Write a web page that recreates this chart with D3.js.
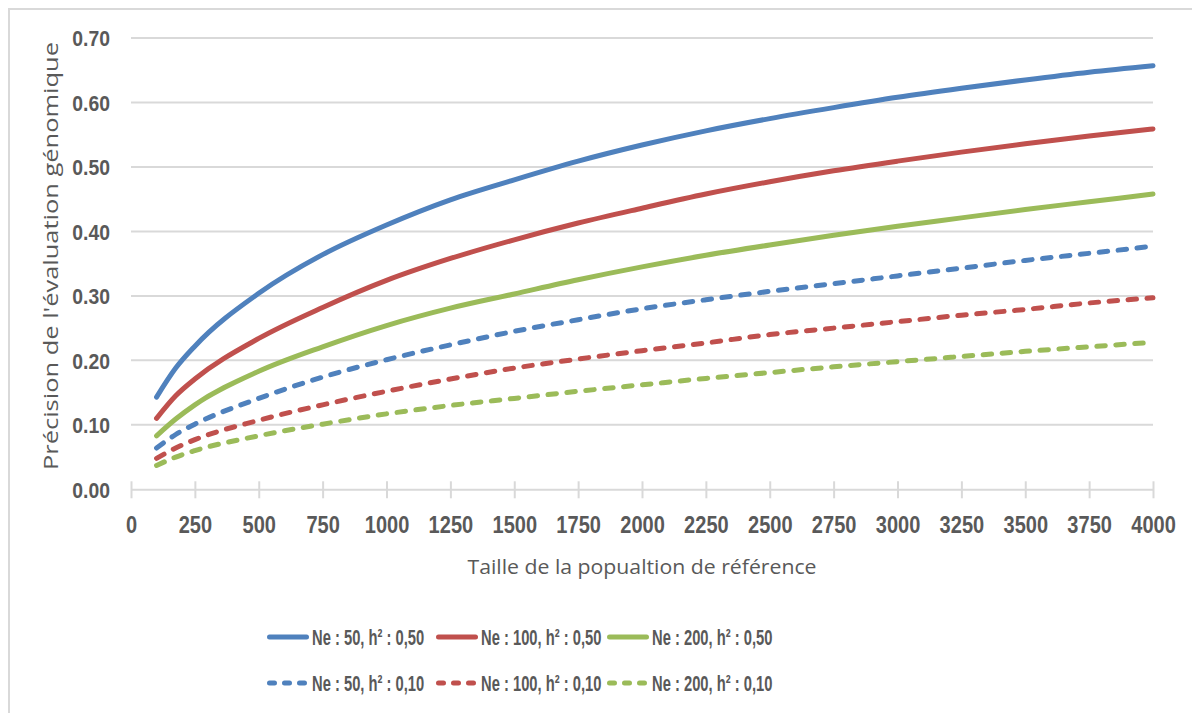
<!DOCTYPE html>
<html>
<head>
<meta charset="utf-8">
<script src="https://cdn.jsdelivr.net/npm/d3@7"></script>
<style>
  html, body { margin: 0; padding: 0; background: #ffffff; }
  svg { display: block; }
</style>
</head>
<body>
<svg id="chart" width="1192" height="713"></svg>
<script>
// ---------------- DATA ----------------
const sizes = [100, 175, 250, 500, 750, 1000, 1250, 1500, 1750, 2000, 2250, 2500, 2750, 3000, 3250, 3500, 3750, 4000];

const ne50_h50  = [0.143, 0.188, 0.222, 0.304, 0.364, 0.410, 0.449, 0.480, 0.509, 0.534, 0.556, 0.575, 0.592, 0.608, 0.622, 0.635, 0.647, 0.657];
const ne100_h50 = [0.110, 0.145, 0.171, 0.234, 0.282, 0.324, 0.358, 0.387, 0.413, 0.436, 0.458, 0.477, 0.494, 0.509, 0.523, 0.536, 0.548, 0.559];
const ne200_h50 = [0.083, 0.109, 0.131, 0.183, 0.221, 0.254, 0.281, 0.303, 0.325, 0.345, 0.363, 0.379, 0.394, 0.408, 0.421, 0.434, 0.446, 0.458];
const ne50_h10  = [0.064, 0.085, 0.101, 0.141, 0.174, 0.201, 0.224, 0.245, 0.263, 0.280, 0.294, 0.307, 0.319, 0.331, 0.343, 0.355, 0.366, 0.377];
const ne100_h10 = [0.048, 0.064, 0.077, 0.107, 0.131, 0.152, 0.171, 0.188, 0.202, 0.215, 0.227, 0.240, 0.250, 0.260, 0.270, 0.279, 0.289, 0.297];
const ne200_h10 = [0.037, 0.050, 0.060, 0.083, 0.101, 0.117, 0.130, 0.141, 0.152, 0.162, 0.172, 0.181, 0.190, 0.198, 0.206, 0.214, 0.221, 0.228];

const seriesNames = ["Ne : 50, h² : 0,50", "Ne : 100, h² : 0,50", "Ne : 200, h² : 0,50",
                     "Ne : 50, h² : 0,10", "Ne : 100, h² : 0,10", "Ne : 200, h² : 0,10"];
const seriesValues = [ne50_h50, ne100_h50, ne200_h50, ne50_h10, ne100_h10, ne200_h10];

const xTicks = [0, 250, 500, 750, 1000, 1250, 1500, 1750, 2000, 2250, 2500, 2750, 3000, 3250, 3500, 3750, 4000];
const yTicks = [0, 0.1, 0.2, 0.3, 0.4, 0.5, 0.6, 0.7];
const xTitle = "Taille de la popualtion de référence";
const yTitle = "Précision de l'évaluation génomique";

// ---------------- STYLE ----------------
const colors = ["#4F81BD", "#C0504D", "#9BBB59", "#4F81BD", "#C0504D", "#9BBB59"];
const dashed = [false, false, false, true, true, true];
const textColor = "#595959";
const gridColor = "#D9D9D9";
const tickFont = "'Liberation Sans', Arial, sans-serif";
const titleFont = "'Open Sans', 'DejaVu Sans', sans-serif";

// horizontally condense text (reference font is narrow)
function condense(sel, factor) {
  sel.each(function () {
    const w = this.getComputedTextLength();
    d3.select(this).attr("textLength", w * factor).attr("lengthAdjust", "spacingAndGlyphs");
  });
}

const svg = d3.select("#chart");

// frame
svg.append("rect")
  .attr("x", 9).attr("y", 9).attr("width", 1200).attr("height", 720)
  .attr("fill", "#fff").attr("stroke", gridColor).attr("stroke-width", 2);

const x = d3.scaleLinear().domain([0, 4000]).range([131, 1153]);
const y = d3.scaleLinear().domain([0, 0.7]).range([489.3, 38]);

// gridlines
svg.append("g").selectAll("line").data(yTicks.filter(d => d > 0)).join("line")
  .attr("x1", x(0)).attr("x2", x(4000))
  .attr("y1", d => y(d)).attr("y2", d => y(d))
  .attr("stroke", gridColor).attr("stroke-width", 2);

// x axis
const xAxis = svg.append("g").attr("transform", `translate(0,${y(0)})`)
  .call(d3.axisBottom(x).tickValues(xTicks).tickSize(9).tickPadding(20).tickSizeOuter(0)
        .tickFormat(d3.format("d")));
xAxis.select(".domain").attr("stroke", gridColor).attr("stroke-width", 2);
xAxis.selectAll(".tick line").attr("stroke", gridColor).attr("stroke-width", 2).attr("y1", -8);
xAxis.selectAll(".tick text")
  .attr("fill", textColor).attr("font-family", tickFont).attr("font-weight", "bold")
  .attr("font-size", 23).attr("dy", 14.7)
  .call(condense, 0.87);

// y axis labels
const yAxis = svg.append("g").attr("transform", `translate(${x(0)},0)`)
  .call(d3.axisLeft(y).tickValues(yTicks).tickSize(0).tickPadding(21).tickFormat(d3.format(".2f")));
yAxis.select(".domain").remove();
yAxis.selectAll(".tick text")
  .attr("fill", textColor).attr("font-family", tickFont).attr("font-weight", "bold")
  .attr("font-size", 22).attr("dy", "0.36em")
  .call(condense, 0.88);

// lines
const line = d3.line()
  .x((d, i) => x(sizes[i]))
  .y(d => y(d))
  .curve(d3.curveMonotoneX);

svg.append("g").selectAll("path").data(seriesValues).join("path")
  .attr("d", d => line(d))
  .attr("fill", "none")
  .attr("stroke", (d, i) => colors[i])
  .attr("stroke-width", 5)
  .attr("stroke-linecap", "round")
  .attr("stroke-dasharray", (d, i) => dashed[i] ? "8.5,10.5" : null);

// axis titles
svg.append("text")
  .attr("x", 642).attr("y", 574)
  .attr("text-anchor", "middle")
  .attr("font-family", titleFont).attr("font-size", 20).attr("fill", textColor)
  .attr("textLength", 349).attr("lengthAdjust", "spacingAndGlyphs")
  .text(xTitle);

svg.append("text")
  .attr("transform", "translate(58,256) rotate(-90)")
  .attr("text-anchor", "middle")
  .attr("font-family", titleFont).attr("font-size", 20).attr("fill", textColor)
  .attr("textLength", 428).attr("lengthAdjust", "spacingAndGlyphs")
  .text(yTitle);

// legend
const legendX = [267, 436, 607];
const legendY = [637, 683];
const legend = svg.append("g").selectAll("g").data(seriesNames).join("g")
  .attr("transform", (d, i) => `translate(${legendX[i % 3]},${legendY[Math.floor(i / 3)]})`);
legend.append("line")
  .attr("x1", 2.5).attr("x2", 39.5).attr("y1", 0).attr("y2", 0)
  .attr("stroke", (d, i) => colors[i]).attr("stroke-width", 5)
  .attr("stroke-linecap", "round")
  .attr("stroke-dasharray", (d, i) => dashed[i] ? "5,10" : null);
legend.append("text")
  .attr("x", 45).attr("y", 0).attr("dy", "0.36em")
  .attr("font-family", tickFont).attr("font-weight", "bold").attr("font-size", 22)
  .attr("fill", textColor)
  .text(d => d)
  .call(condense, 0.67);
</script>
</body>
</html>
